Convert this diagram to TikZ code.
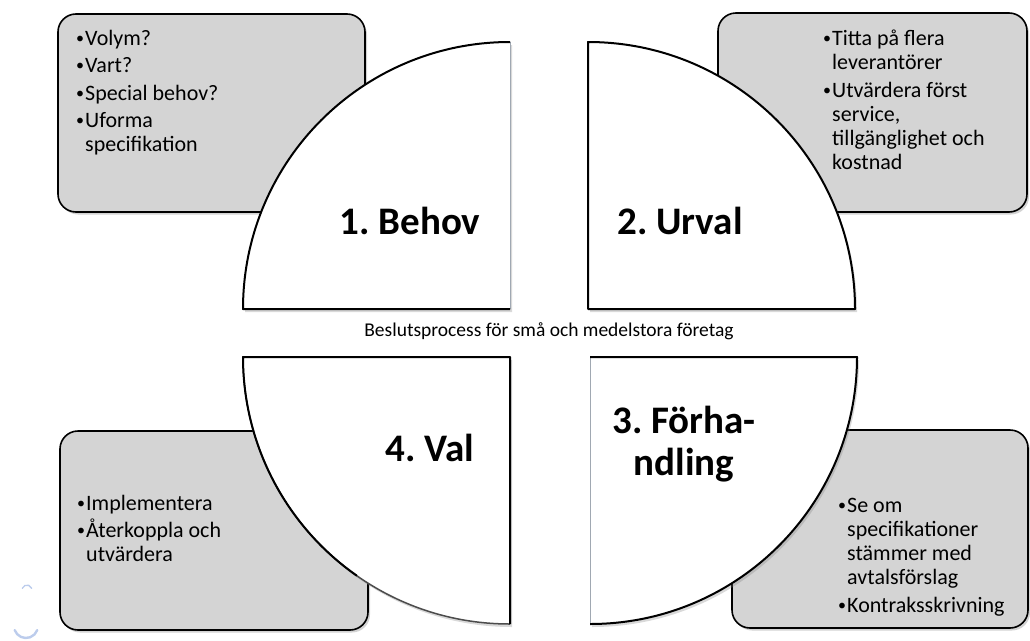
\documentclass[tikz,border=0pt]{standalone}
\usepackage{fontspec}
\setmainfont{Carlito}
\usetikzlibrary{shadows}
\frenchspacing

\definecolor{boxgray}{RGB}{212,212,212}
\definecolor{edgegray}{RGB}{160,168,178}
\definecolor{logoblue}{RGB}{188,204,236}

% bullet paragraph with hanging indent
\newcommand{\bitem}[1]{\par\hangindent=9pt\hangafter=1\noindent
  \makebox[9pt][l]{\fontsize{16}{16}\selectfont\raisebox{0.2ex}{•}}#1}
% ragged block of bullet paragraphs, baseline at the first line
\newcommand{\bulletblock}[2]{\parbox[t]{260pt}{\raggedright\setlength{\parskip}{#1}#2}}

\tikzset{
  infobox/.style={draw=black, line width=1.6pt, fill=boxgray, rounded corners=18pt,
    drop shadow={shadow xshift=2pt, shadow yshift=-2.5pt, opacity=0.35}},
  pie/.style={fill=white,
    drop shadow={shadow xshift=2pt, shadow yshift=-3pt, opacity=0.3}},
  edgedark/.style={draw=black, line width=2pt, line join=round},
  edgelight/.style={draw=edgegray, line width=0.9pt},
  boxtext/.style={inner sep=0pt, anchor=base west,
    font=\fontsize{22}{24}\selectfont},
  steplabel/.style={inner sep=0pt, align=center,
    font=\fontsize{39}{42}\selectfont\bfseries},
  titletext/.style={inner sep=0pt, font=\fontsize{19.5}{22}\selectfont}
}

\begin{document}
\begin{tikzpicture}[x=1pt, y=-1pt]
\useasboundingbox (0,0) rectangle (1030,640);

% information boxes
\path[infobox] (58,14) rectangle (365,212);
\path[infobox] (718,13) rectangle (1027,212);
\path[infobox] (60,431) rectangle (368,630);
\path[infobox] (732,430) rectangle (1028,628);

% quadrant 1: Behov
\path[pie] (510,309) -- (510,42) arc[start angle=270, end angle=180, radius=267] -- cycle;
\draw[edgelight] (510,309) -- (510,42);
\draw[edgedark] (510,42) arc[start angle=270, end angle=180, radius=267] -- (510,309);

% quadrant 2: Urval
\path[pie] (588,309) -- (588,42) arc[start angle=270, end angle=360, radius=267] -- cycle;
\draw[edgedark] (855,309) arc[start angle=360, end angle=270, radius=267] -- (588,309) -- cycle;

% quadrant 3: Förhandling
\path[pie] (590,357) -- (857,357) arc[start angle=0, end angle=90, radius=267] -- cycle;
\draw[edgelight] (590,357) -- (590,624);
\draw[edgedark] (590,624) arc[start angle=90, end angle=0, radius=267] -- (590,357);

% quadrant 4: Val
\path[pie] (510,357) -- (510,624) arc[start angle=90, end angle=180, radius=267] -- cycle;
\draw[draw=black!70, line width=1.5pt] (243,357) arc[start angle=180, end angle=90, radius=267];
\draw[edgedark] (510,624) -- (510,357) -- (243,357) arc[start angle=180, end angle=125, radius=267];

% step labels
\node[steplabel] (s1) at (410,221) {1. Behov};
\node[steplabel] (s2) at (680,221) {2. Urval};
\node[steplabel] (s3) at (684,444) {3. Förha-\\ndling};
\node[steplabel] (s4) at (430,448) {4. Val};

% caption between the quadrants
\node[titletext] (title) at (549,331) {Beslutsprocess för små och medelstora företag};

% box contents
\node[boxtext] (t1) at (76,45) {\bulletblock{3.5pt}{%
  \bitem{Volym?}\bitem{Vart?}\bitem{Special behov?}\bitem{Uforma\newline specifikation}}};
\node[boxtext] (t2) at (823,45) {\bulletblock{4pt}{%
  \bitem{Titta på flera\newline leverantörer}\bitem{Utvärdera först\newline service,\newline tillgänglighet och\newline kostnad}}};
\node[boxtext] (t3) at (838,512) {\bulletblock{4pt}{%
  \bitem{Se om\newline specifikationer\newline stämmer med\newline avtalsförslag}\bitem{Kontraksskrivning}}};
\node[boxtext] (t4) at (77,510) {\bulletblock{3pt}{%
  \bitem{Implementera}\bitem{Återkoppla och\newline utvärdera}}};

% faint logo fragment in the corner
\draw[logoblue, line width=1.3pt, line cap=round] (22.3,588.3) arc[start angle=200, end angle=340, radius=5];
\draw[logoblue, line width=2.4pt, line cap=round] (14.7,630.1) arc[start angle=160, end angle=20, radius=12];
\end{tikzpicture}
\end{document}
